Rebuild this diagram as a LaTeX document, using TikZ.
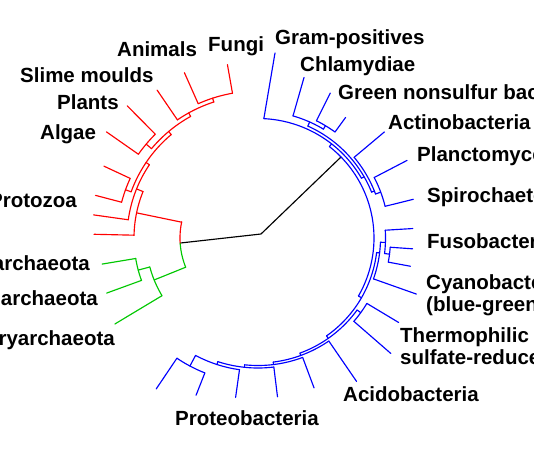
\documentclass[tikz,border=0pt]{standalone}
\usepackage{fontspec}
\setmainfont{Liberation Sans}
\definecolor{tred}{RGB}{255,0,0}
\definecolor{tblue}{RGB}{0,0,255}
\definecolor{tgreen}{RGB}{0,200,0}
\tikzset{
  br/.style={line width=1.15pt,line cap=round,line join=round},
  lab/.style={inner sep=0pt,font=\bfseries\fontsize{20.5}{24}\selectfont},
  labl/.style={lab,anchor=base west},
  labr/.style={lab,anchor=base east}
}
% arc of a tree node: colour, radius, start angle, end angle
\newcommand\Arc[4]{\draw[br,#1] plot[domain=#3:#4,samples=36] ({258+#2*cos(\x)},{238+#2*sin(\x)});}
% radial branch: colour, angle, inner radius, outer radius
\newcommand\Ray[4]{\draw[br,#1] ({258+#3*cos(#2)},{238+#3*sin(#2)}) -- ({258+#4*cos(#2)},{238+#4*sin(#2)});}
\begin{document}
\begin{tikzpicture}[x=1pt,y=-1pt]
\useasboundingbox (0,0) rectangle (534,462);
\fill[white] (0,0) rectangle (534,462);
% root
\coordinate (root) at (261,234);
\coordinate (EA) at ({258+78*cos(176.3)},{238+78*sin(176.3)});
\coordinate (B) at ({258+116*cos(-44.3)},{238+116*sin(-44.3)});
\draw[br,black] (EA) -- (root) -- (B);
% Archaea + Eukaryota node
\Arc{tgreen}{78}{158}{176.3}
\Arc{tred}{78}{176.3}{192}
% ---------- Eukaryota (red)
\Ray{tred}{191.7}{78}{124}
\Arc{tred}{124}{181.3}{202}
\Ray{tred}{181.3}{124}{164}
\Ray{tred}{202}{124}{131}
\Arc{tred}{131}{188}{214}
\Ray{tred}{188}{131}{166}
\Ray{tred}{214}{131}{135}
\Arc{tred}{135}{200}{230}
\Ray{tred}{200}{135}{141}
\Arc{tred}{141}{194.7}{205}
\Ray{tred}{194.7}{141}{168}
\Ray{tred}{205}{141}{170}
\Ray{tred}{230}{135}{139}
\Arc{tred}{139}{220}{241}
\Ray{tred}{220}{139}{146}
\Arc{tred}{146}{215}{225.3}
\Ray{tred}{215}{146}{185}
\Ray{tred}{225.3}{146}{186}
\Ray{tred}{241}{139}{143}
\Arc{tred}{143}{235.7}{252}
\Ray{tred}{235.7}{143}{179}
\Ray{tred}{252}{143}{147}
\Arc{tred}{147}{246}{260}
\Ray{tred}{246}{147}{181}
\Ray{tred}{260}{147}{176}
% ---------- Archaea (green)
\Ray{tgreen}{158}{78}{112}
\Arc{tgreen}{112}{149}{165}
\Ray{tgreen}{149}{112}{167}
\Ray{tgreen}{165}{112}{124}
\Arc{tgreen}{124}{160}{170.5}
\Ray{tgreen}{170.5}{124}{158}
\Ray{tgreen}{160}{124}{161}
% ---------- Bacteria (blue)
\Arc{tblue}{116}{-52}{30}
\Ray{tblue}{-52}{116}{119.5}
\Arc{tblue}{119.5}{-87.2}{-30}
\coordinate (gpin) at ({258+119.5*cos(-87.2)},{238+119.5*sin(-87.2)});
\coordinate (gpout) at (275,53);
\draw[br,tblue] (gpin) -- (gpout);
\Ray{tblue}{-30}{119.5}{122.5}
\Arc{tblue}{122.5}{-66}{-22}
\Ray{tblue}{-66}{122.5}{127}
\Arc{tblue}{127}{-74}{-59}
\Ray{tblue}{-74}{127}{167}
\Ray{tblue}{-59}{127}{131}
\Arc{tblue}{131}{-63.5}{-54}
\Ray{tblue}{-63.5}{131}{162}
\Ray{tblue}{-54}{131}{149}
\Ray{tblue}{-22}{122.5}{125.5}
\Arc{tblue}{125.5}{-40}{-20.5}
\Ray{tblue}{-40}{125.5}{165}
\Ray{tblue}{-20.5}{125.5}{131}
\Arc{tblue}{131}{-27.5}{-14}
\Ray{tblue}{-27.5}{131}{168}
\Ray{tblue}{-14}{131}{160}
\Ray{tblue}{30}{116}{119.5}
\Arc{tblue}{119.5}{7}{55}
\Ray{tblue}{7}{119.5}{122.5}
\Arc{tblue}{122.5}{2}{19.5}
\Ray{tblue}{2}{122.5}{127.5}
\Arc{tblue}{127.5}{-3.5}{7}
\Ray{tblue}{-3.5}{127.5}{155}
\Ray{tblue}{7}{127.5}{132.5}
\Arc{tblue}{132.5}{4}{10.5}
\Ray{tblue}{4}{132.5}{155}
\Ray{tblue}{10.5}{132.5}{155}
\Ray{tblue}{19.5}{122.5}{168}
\Ray{tblue}{55}{119.5}{122.5}
\Arc{tblue}{122.5}{36}{70}
\Ray{tblue}{36}{122.5}{127}
\Arc{tblue}{127}{31}{41}
\Ray{tblue}{31}{127}{164}
\Ray{tblue}{41}{127}{176}
\Ray{tblue}{70}{122.5}{125}
\Arc{tblue}{125}{55.5}{83}
\Ray{tblue}{55.5}{125}{174}
\Ray{tblue}{83}{125}{127.5}
\Arc{tblue}{127.5}{69.5}{96}
\Ray{tblue}{69.5}{127.5}{160}
\Ray{tblue}{96}{127.5}{130}
\Arc{tblue}{130}{83}{108}
\Ray{tblue}{83}{130}{160}
\Ray{tblue}{108}{130}{133}
\Arc{tblue}{133}{98}{118}
\Ray{tblue}{98}{133}{161}
\Ray{tblue}{118}{133}{145}
\Arc{tblue}{145}{111.5}{124}
\Ray{tblue}{111.5}{145}{169}
\Ray{tblue}{124}{145}{182}
% ---------- labels
\node[labl] (fungi) at (208,52) {Fungi};
\node[labl] (animals) at (117,57) {Animals};
\node[labl] (slime) at (20,83) {Slime moulds};
\node[labl] (plants) at (57,110) {Plants};
\node[labl] (algae) at (40,140) {Algae};
\node[labr] (protozoa) at (77,207) {Protozoa};
\node[labr] (cren) at (90,270) {Crenarchaeota};
\node[labr] (nano) at (98,305) {Nanoarchaeota};
\node[labr] (eury) at (115,345) {Euryarchaeota};
\node[labl] (gram) at (275,45) {Gram-positives};
\node[labl] (chlam) at (300,72) {Chlamydiae};
\node[labl] (gns) at (338,100) {Green nonsulfur bacteria};
\node[labl] (actino) at (388,130) {Actinobacteria};
\node[labl] (plancto) at (417,162) {Planctomycetes};
\node[labl] (spiro) at (427,202) {Spirochaetes};
\node[labl] (fuso) at (427,248) {Fusobacteria};
\node[labl] (cyano) at (426,289) {Cyanobacteria};
\node[labl] (cyano2) at (426,311) {(blue-green algae)};
\node[labl] (thermo) at (400,342) {Thermophilic};
\node[labl] (thermo2) at (400,364) {sulfate-reducers};
\node[labl] (acido) at (343,401) {Acidobacteria};
\node[labl] (proteo) at (175,425) {Proteobacteria};
\end{tikzpicture}
\end{document}
